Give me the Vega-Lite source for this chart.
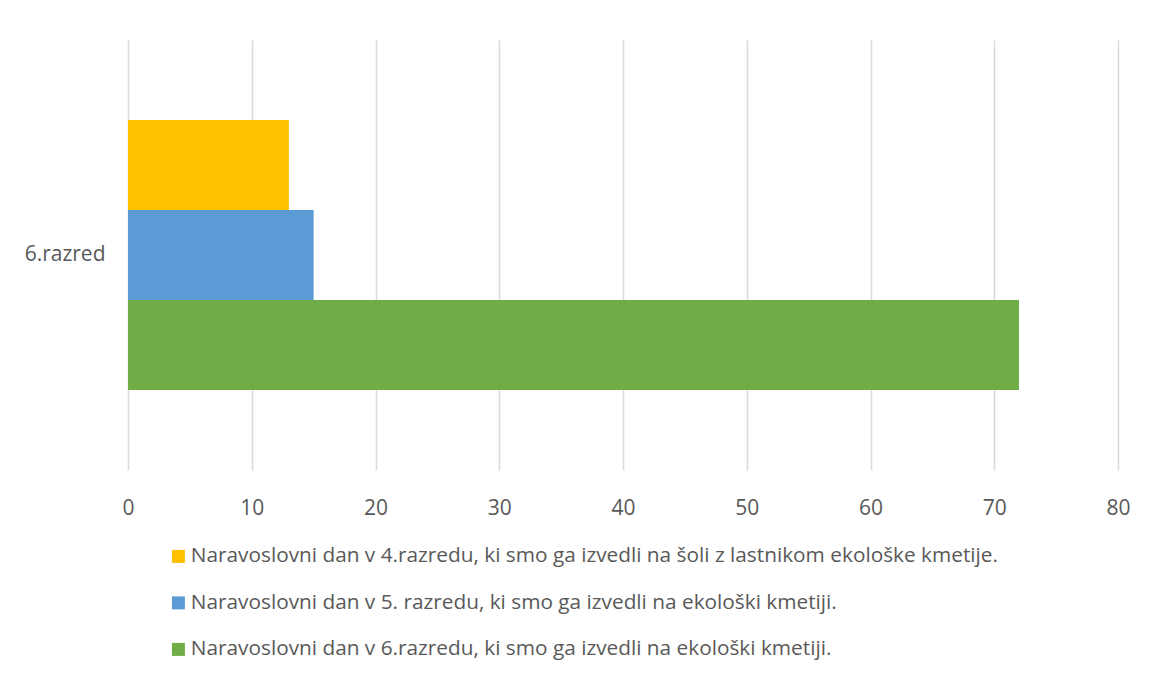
{
  "$schema": "https://vega.github.io/schema/vega-lite/v6.json",
  "autosize": {"type": "none"},
  "width": 990,
  "height": 430,
  "padding": {"left": 128, "top": 40, "right": 33, "bottom": 207},
  "background": "white",
  "config": {
    "font": "Open Sans",
    "view": {"stroke": null}
  },
  "data": {
    "values": [
      {"razred": "6.razred", "serija": "Naravoslovni dan v 4.razredu, ki smo ga izvedli na šoli z lastnikom ekološke kmetije.", "vrednost": 13},
      {"razred": "6.razred", "serija": "Naravoslovni dan v 5. razredu, ki smo ga izvedli na ekološki kmetiji.", "vrednost": 15},
      {"razred": "6.razred", "serija": "Naravoslovni dan v 6.razredu, ki smo ga izvedli na ekološki kmetiji.", "vrednost": 72}
    ]
  },
  "mark": {"type": "bar"},
  "encoding": {
    "y": {
      "field": "razred",
      "type": "nominal",
      "scale": {"paddingInner": 0, "paddingOuter": 0.296},
      "axis": {
        "title": null,
        "ticks": false,
        "domain": false,
        "grid": false,
        "labelFontSize": 21,
        "labelColor": "#595959",
        "labelPadding": 23
      }
    },
    "yOffset": {
      "field": "serija",
      "type": "nominal",
      "scale": {"paddingInner": 0, "paddingOuter": 0}
    },
    "x": {
      "field": "vrednost",
      "type": "quantitative",
      "scale": {"domain": [0, 80]},
      "axis": {
        "title": null,
        "values": [0, 10, 20, 30, 40, 50, 60, 70, 80],
        "ticks": false,
        "domain": false,
        "grid": true,
        "gridColor": "#D9D9D9",
        "gridWidth": 1.5,
        "labelFontSize": 21,
        "labelColor": "#595959",
        "labelPadding": 27,
        "labelFlush": false
      }
    },
    "color": {
      "field": "serija",
      "type": "nominal",
      "scale": {"range": ["#FFC000", "#5B9BD5", "#70AD47"]},
      "legend": {
        "title": null,
        "orient": "none",
        "legendX": 40,
        "legendY": 506,
        "direction": "vertical",
        "symbolType": "square",
        "symbolSize": 169,
        "symbolStrokeWidth": 0,
        "labelFontSize": 20.8,
        "labelColor": "#595959",
        "labelOffset": 2,
        "labelLimit": 1000,
        "rowPadding": 24.5
      }
    }
  }
}
